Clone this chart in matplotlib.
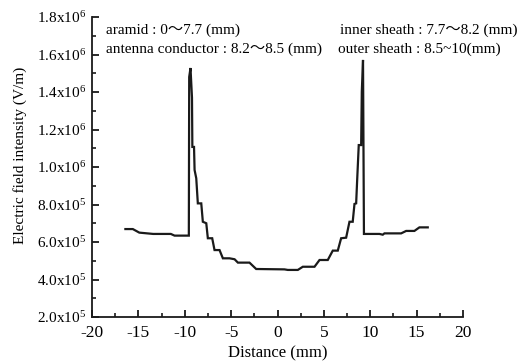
import matplotlib
matplotlib.use("Agg")
import matplotlib.pyplot as plt
from matplotlib.ticker import MultipleLocator

plt.rcParams["font.family"] = ["Liberation Serif", "Noto Sans CJK SC", "DejaVu Sans"]
plt.rcParams["mathtext.fontset"] = "custom"
plt.rcParams["mathtext.rm"] = "Liberation Serif"
plt.rcParams["mathtext.it"] = "Liberation Serif:italic"

# distance (mm) and field intensity (x1e5 V/m)
distance = [-16.4, -15.6, -14.9, -13.4, -11.5, -11.1, -9.56,
            -9.52, -9.38, -9.22, -9.18, -9.0, -8.94, -8.76, -8.59, -8.22,
            -8.05, -7.68, -7.51, -7.04, -6.79, -6.25, -5.89, -5.17, -4.63,
            -4.27, -3.02, -2.30, 0.75, 1.11, 2.19, 2.73, 3.99, 4.53, 5.42,
            5.96, 6.50, 6.86, 7.40, 7.76, 8.11, 8.30, 8.48, 8.59, 8.76,
            9.02, 9.09, 9.22, 9.32,
            10.99, 11.35, 11.53, 13.33, 13.87, 14.76, 15.3, 16.2]
field = [6.69, 6.69, 6.50, 6.43, 6.43, 6.34, 6.34,
         14.8, 15.28, 13.7, 11.07, 11.07, 9.84, 9.40, 8.06, 8.06,
         7.08, 7.00, 6.20, 6.20, 5.57, 5.57, 5.13, 5.13, 5.08,
         4.90, 4.90, 4.56, 4.54, 4.51, 4.51, 4.68, 4.68, 5.04, 5.04,
         5.54, 5.54, 6.20, 6.23, 7.08, 7.08, 8.03, 8.06, 9.31, 11.17,
         11.17, 14.02, 15.71, 6.43,
         6.43, 6.39, 6.46, 6.46, 6.59, 6.59, 6.78, 6.78]
field = [v * 1e5 for v in field]

ytick_values = [2e5, 4e5, 6e5, 8e5, 1.0e6, 1.2e6, 1.4e6, 1.6e6, 1.8e6]
ytick_labels = ["2.0x10$^5$", "4.0x10$^5$", "6.0x10$^5$", "8.0x10$^5$",
                "1.0x10$^6$", "1.2x10$^6$", "1.4x10$^6$", "1.6x10$^6$",
                "1.8x10$^6$"]
xtick_values = [-20, -15, -10, -5, 0, 5, 10, 15, 20]

notes = [
    ("aramid : 0～7.7 (mm)", 106, 30),
    ("antenna conductor : 8.2～8.5 (mm)", 106, 49),
    ("inner sheath : 7.7～8.2 (mm)", 340, 30),
    ("outer sheath : 8.5~10(mm)", 338, 49),
]

W, H = 523, 362
fig = plt.figure(figsize=(W / 100, H / 100), dpi=100)
ax = fig.add_axes([92 / W, 1 - 317 / H, 371 / W, 300 / H])

ax.plot(distance, field, color="#1a1a1a", lw=1.6, solid_joinstyle="miter")

ax.set_xlim(-20, 20)
ax.set_ylim(2e5, 1.8e6)
ax.set_xticks(xtick_values)
ax.set_xticklabels([str(v) for v in xtick_values])
ax.set_yticks(ytick_values)
ax.set_yticklabels(ytick_labels)
ax.xaxis.set_minor_locator(MultipleLocator(2.5))
ax.yaxis.set_minor_locator(MultipleLocator(1e5))

for side in ["top", "right"]:
    ax.spines[side].set_visible(False)
for side in ["left", "bottom"]:
    ax.spines[side].set_linewidth(1.3)
    ax.spines[side].set_color("#1a1a1a")

ax.tick_params(which="major", direction="in", length=5, width=1.3,
               color="#1a1a1a")
ax.tick_params(which="minor", direction="in", length=3, width=1.2,
               color="#1a1a1a")
ax.tick_params(axis="y", labelsize=11, pad=4)
ax.tick_params(axis="x", labelsize=12.5, pad=6)

# axis titles placed as in the reference
fig.text(278 / W, 1 - 353 / H, "Distance (mm)", fontsize=12,
         ha="center", va="center")
fig.text(20 / W, 1 - 155 / H, "Electric field intensity (V/m)", fontsize=11,
         ha="center", va="center", rotation=90)

for txt, px, py in notes:
    fig.text(px / W, 1 - py / H, txt, fontsize=11, va="center", ha="left")

fig.savefig("out.png", dpi=100)
